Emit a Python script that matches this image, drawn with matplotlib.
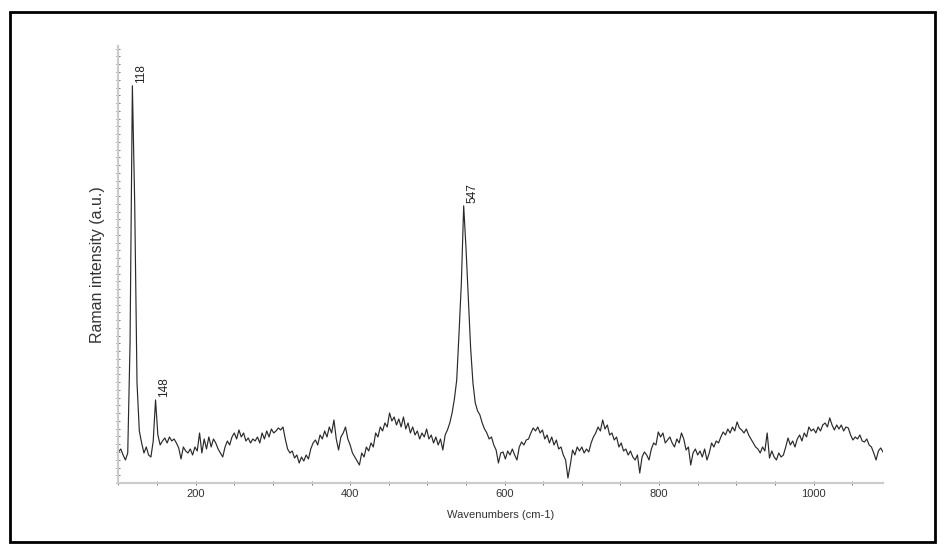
import matplotlib
matplotlib.use("Agg")
import matplotlib.pyplot as plt
import numpy as np
from matplotlib.patches import Rectangle
from matplotlib.ticker import MultipleLocator, NullLocator

wavenumbers = np.arange(100, 1091, 3)
intensity = [
    31, 34, 28, 23, 30, 140, 397, 280, 100, 52,
    40, 30, 36, 28, 26, 42, 83, 48, 38, 42,
    45, 40, 46, 42, 44, 40, 35, 24, 36, 32,
    30, 34, 28, 36, 32, 50, 30, 44, 34, 46,
    36, 44, 40, 34, 30, 26, 36, 42, 38, 46,
    50, 44, 53, 46, 50, 42, 45, 40, 44, 42,
    46, 40, 50, 44, 52, 46, 54, 50, 52, 55,
    53, 56, 44, 34, 30, 32, 25, 28, 20, 26,
    22, 28, 24, 34, 40, 43, 38, 48, 44, 52,
    46, 56, 50, 63, 44, 33, 46, 50, 56, 44,
    38, 30, 26, 22, 18, 30, 26, 36, 32, 40,
    36, 50, 46, 56, 52, 60, 56, 70, 62, 66,
    58, 64, 56, 66, 54, 60, 50, 56, 48, 52,
    44, 50, 46, 54, 44, 48, 40, 46, 38, 44,
    33, 48, 53, 60, 70, 84, 103, 150, 200, 277,
    235, 185, 135, 100, 80, 72, 68, 60, 54, 50,
    44, 46, 38, 33, 20, 30, 31, 24, 32, 28,
    34, 28, 23, 36, 41, 38, 43, 44, 50, 55,
    52, 56, 50, 53, 44, 48, 40, 46, 38, 43,
    34, 36, 28, 23, 5, 18, 33, 28, 36, 32,
    36, 30, 34, 31, 40, 46, 50, 56, 52, 63,
    54, 58, 48, 50, 43, 46, 36, 40, 32, 34,
    28, 32, 26, 23, 28, 10, 26, 31, 28, 23,
    34, 40, 38, 51, 46, 50, 40, 43, 46, 40,
    36, 44, 40, 50, 44, 33, 36, 18, 30, 34,
    28, 32, 26, 34, 23, 30, 40, 36, 42, 40,
    46, 51, 48, 54, 50, 56, 52, 61, 55, 53,
    50, 54, 48, 44, 40, 36, 34, 30, 36, 32,
    50, 25, 32, 26, 23, 30, 26, 28, 36, 45,
    38, 42, 36, 44, 48, 42, 50, 46, 56, 52,
    54, 50, 56, 52, 58, 60, 56, 65, 58, 53,
    58, 54, 58, 52, 56, 55, 48, 43, 46, 44,
    48, 42, 41, 44, 38, 36, 30, 23, 32, 35,
    31,
]

peak_positions = [118, 148, 547]
peak_labels = ["118", "148", "547"]

plt.rcParams['font.family'] = ['Liberation Sans', 'DejaVu Sans']

fig = plt.figure(figsize=(9.44, 5.49), dpi=100)
ax = fig.add_axes([0.1255, 0.1202, 0.8099, 0.7965])

ax.plot(wavenumbers, intensity, color='#2a2a2a', linewidth=0.85)

# peak labels, rotated, just right of each peak top
for pos, lab in zip(peak_positions, peak_labels):
    i = list(wavenumbers).index(pos)
    ax.text(pos + 3, intensity[i] + 3, lab, rotation=90, fontsize=8.5,
            ha='left', va='bottom', color='#222222')

ax.set_xlim(100, 1090)
ax.set_ylim(0, 437)

ax.spines['top'].set_visible(False)
ax.spines['right'].set_visible(False)
for s in ['left', 'bottom']:
    ax.spines[s].set_color('#cccccc')
    ax.spines[s].set_linewidth(1.6)

ax.xaxis.set_major_locator(MultipleLocator(200))
ax.xaxis.set_minor_locator(MultipleLocator(50))
ax.yaxis.set_major_locator(NullLocator())
ax.yaxis.set_minor_locator(MultipleLocator(7.75))
ax.tick_params(axis='both', which='both', direction='inout', color='#777777',
               width=0.7, length=2.5)
ax.tick_params(axis='x', labelsize=8, pad=3, labelcolor='#333333')

ax.set_xlabel("Wavenumbers (cm-1)", fontsize=8, color='#333333', labelpad=8)
ax.set_ylabel("Raman intensity (a.u.)", fontsize=11.5, color='#333333', labelpad=5)

# black frame round the whole picture
fig.patches.append(Rectangle((10 / 944, 7 / 549), 925 / 944, 530 / 549,
                             transform=fig.transFigure, fill=False,
                             edgecolor='black', linewidth=2))

fig.savefig("out.png", dpi=100)
